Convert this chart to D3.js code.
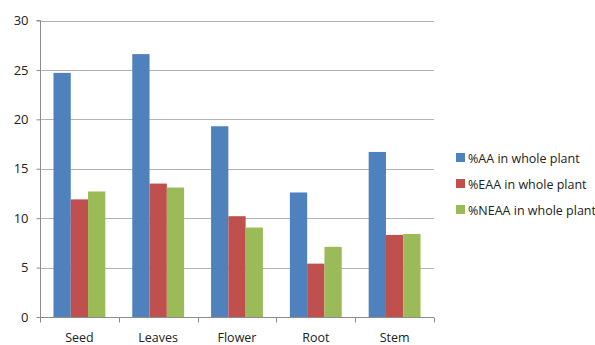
<!DOCTYPE html>
<html>
<head>
<meta charset="utf-8">
<script src="https://cdn.jsdelivr.net/npm/d3@7"></script>
<style>
  html, body { margin: 0; padding: 0; background: #fff; }
  svg { display: block; font-family: "Open Sans", "DejaVu Sans", sans-serif; }
</style>
</head>
<body>
<svg id="chart" width="595" height="345"></svg>
<script>
// Plant parts and amino-acid percentages
const categories = ["Seed", "Leaves", "Flower", "Root", "Stem"];
const seriesNames = ["%AA in whole plant", "%EAA in whole plant", "%NEAA in whole plant"];
const aaValues   = [24.7, 26.6, 19.3, 12.6, 16.7];
const eaaValues  = [11.9, 13.5, 10.2, 5.4, 8.3];
const neaaValues = [12.7, 13.1, 9.05, 7.1, 8.4];
const yTicks = [0, 5, 10, 15, 20, 25, 30];
const colors = ["#4F81BD", "#C0504D", "#9BBB59"];

const seriesValues = [aaValues, eaaValues, neaaValues];
const rows = categories.map((c, i) => ({
  category: c,
  values: seriesNames.map((s, j) => ({ series: s, idx: j, value: seriesValues[j][i] }))
}));

const svg = d3.select("#chart");
const plot = { left: 40, right: 434, top: 20.5, bottom: 317 };

const x = d3.scaleBand().domain(categories).range([plot.left, plot.right]).paddingInner(0).paddingOuter(0);
const xInner = d3.scaleBand().domain(d3.range(seriesNames.length))
  .range([0, x.bandwidth()]).paddingInner(0).paddingOuter(0.78);
const y = d3.scaleLinear().domain([0, 30]).range([plot.bottom, plot.top]);

// Horizontal gridlines
svg.append("g")
  .selectAll("line")
  .data(yTicks.filter(t => t > 0))
  .join("line")
  .attr("x1", plot.left).attr("x2", plot.right)
  .attr("y1", d => Math.round(y(d)) + 0.5).attr("y2", d => Math.round(y(d)) + 0.5)
  .attr("stroke", "#b3b3b3").attr("stroke-width", 1);

// Bars
svg.append("g")
  .selectAll("g")
  .data(rows)
  .join("g")
  .attr("transform", d => `translate(${x(d.category)},0)`)
  .selectAll("rect")
  .data(d => d.values)
  .join("rect")
  .attr("x", d => xInner(d.idx))
  .attr("width", xInner.bandwidth())
  .attr("y", d => y(d.value))
  .attr("height", d => y(0) - y(d.value))
  .attr("fill", d => colors[d.idx]);

// Y axis
const yAxis = svg.append("g")
  .attr("transform", `translate(${plot.left + 0.5},0)`)
  .call(d3.axisLeft(y).tickValues(yTicks).tickSize(4).tickPadding(8));
yAxis.select(".domain").attr("stroke", "#8c8c8c").attr("d", `M-4,${plot.top}H0V${plot.bottom}`);
yAxis.selectAll(".tick line").attr("stroke", "#8c8c8c");
yAxis.selectAll(".tick text").attr("font-size", 13).attr("fill", "#222")
  .attr("font-family", "'Open Sans', sans-serif");

// X axis with ticks at category boundaries
const xAxisG = svg.append("g").attr("transform", `translate(0,${plot.bottom + 0.5})`);
xAxisG.append("line").attr("x1", plot.left).attr("x2", plot.right)
  .attr("stroke", "#8c8c8c");
xAxisG.selectAll("line.tk")
  .data(categories.map(c => x(c)).concat([plot.right]))
  .join("line").attr("class", "tk")
  .attr("x1", d => Math.round(d) + 0.5).attr("x2", d => Math.round(d) + 0.5)
  .attr("y1", 0).attr("y2", 5)
  .attr("stroke", "#8c8c8c");
xAxisG.selectAll("text")
  .data(categories)
  .join("text")
  .attr("x", d => x(d) + x.bandwidth() / 2)
  .attr("y", 24)
  .attr("text-anchor", "middle")
  .attr("font-size", 12.5)
  .attr("fill", "#222")
  .text(d => d);

// Legend
const legend = svg.append("g").attr("transform", "translate(456,0)");
const legendY = [158, 184, 210];
seriesNames.forEach((s, i) => {
  legend.append("rect")
    .attr("x", 0).attr("y", legendY[i] - 5)
    .attr("width", 9).attr("height", 9)
    .attr("fill", colors[i]);
  legend.append("text")
    .attr("x", 12).attr("y", legendY[i] + 4.5)
    .attr("font-size", 12.5)
    .attr("fill", "#222")
    .text(s);
});
</script>
</body>
</html>
